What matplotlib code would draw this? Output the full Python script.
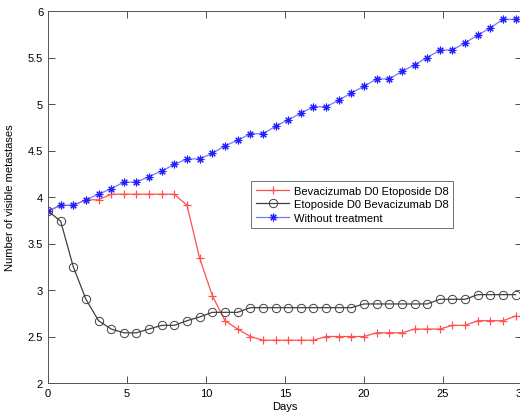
import matplotlib
matplotlib.use("Agg")
import matplotlib.pyplot as plt

plt.rcParams['font.family'] = ['Liberation Sans', 'DejaVu Sans']
plt.rcParams['font.size'] = 8

# time points (days), one every 0.8 day
days = [round(0.8 * i, 1) for i in range(38)]

bev_eto = [3.85, 3.91, 3.91, 3.97, 3.97, 4.03, 4.03, 4.03, 4.03, 4.03,
           4.03, 3.91, 3.34, 2.94, 2.67, 2.58, 2.50, 2.46, 2.46, 2.46,
           2.46, 2.46, 2.50, 2.50, 2.50, 2.50, 2.54, 2.54, 2.54, 2.58,
           2.58, 2.58, 2.62, 2.62, 2.67, 2.67, 2.67, 2.72]

eto_bev = [3.85, 3.74, 3.25, 2.90, 2.67, 2.58, 2.54, 2.54, 2.58, 2.62,
           2.62, 2.67, 2.71, 2.76, 2.76, 2.76, 2.81, 2.81, 2.81, 2.81,
           2.81, 2.81, 2.81, 2.81, 2.81, 2.85, 2.85, 2.85, 2.85, 2.85,
           2.85, 2.90, 2.90, 2.90, 2.95, 2.95, 2.95, 2.95]

no_treat = [3.85, 3.91, 3.91, 3.97, 4.03, 4.09, 4.16, 4.16, 4.22, 4.28,
            4.35, 4.41, 4.41, 4.47, 4.55, 4.61, 4.68, 4.68, 4.76, 4.83,
            4.90, 4.97, 4.97, 5.04, 5.12, 5.19, 5.27, 5.27, 5.35, 5.42,
            5.50, 5.58, 5.58, 5.66, 5.74, 5.82, 5.91, 5.91]

labels = ['Bevacizumab D0 Etoposide D8', 'Etoposide D0 Bevacizumab D8', 'Without treatment']

fig = plt.figure(figsize=(5.2, 4.14), dpi=100)
ax = fig.add_axes([48 / 520, 30 / 414, 474 / 520, 372 / 414])

ax.plot(days, bev_eto, color='#ff5050', lw=0.9, marker='+', ms=6, mew=0.9, label=labels[0])
ax.plot(days, eto_bev, color='#404040', lw=0.9, marker='o', ms=6, mfc='none', mew=0.7, label=labels[1])
ax.plot(days, no_treat, color='#7878ff', lw=0.9, marker=(8, 2, 0), ms=5.5, mec='#2020ff', mew=0.8, label=labels[2])

ax.set_xlim(0, 30)
ax.set_ylim(2, 6)
ax.set_xticks([0, 5, 10, 15, 20, 25, 30])
ax.set_yticks([2, 2.5, 3, 3.5, 4, 4.5, 5, 5.5, 6])
ax.set_yticklabels(['2', '2.5', '3', '3.5', '4', '4.5', '5', '5.5', '6'])
ax.tick_params(direction='in', top=True, right=True, length=5, width=0.6, colors='#333333', labelcolor='black', labelsize=8)
for s in ax.spines.values():
    s.set_color('#555555')
    s.set_linewidth(0.7)

ax.set_xlabel('Days', labelpad=2)
ax.set_ylabel('Number of visible metastases', labelpad=9)

leg = ax.legend(loc='upper left', bbox_to_anchor=(0.428, 0.543), borderaxespad=0,
                fancybox=False, edgecolor='#333333', handlelength=3.0,
                labelspacing=0.3, borderpad=0.45, handletextpad=0.4, fontsize=8)
leg.get_frame().set_linewidth(0.6)

fig.savefig('out.png', dpi=100)
